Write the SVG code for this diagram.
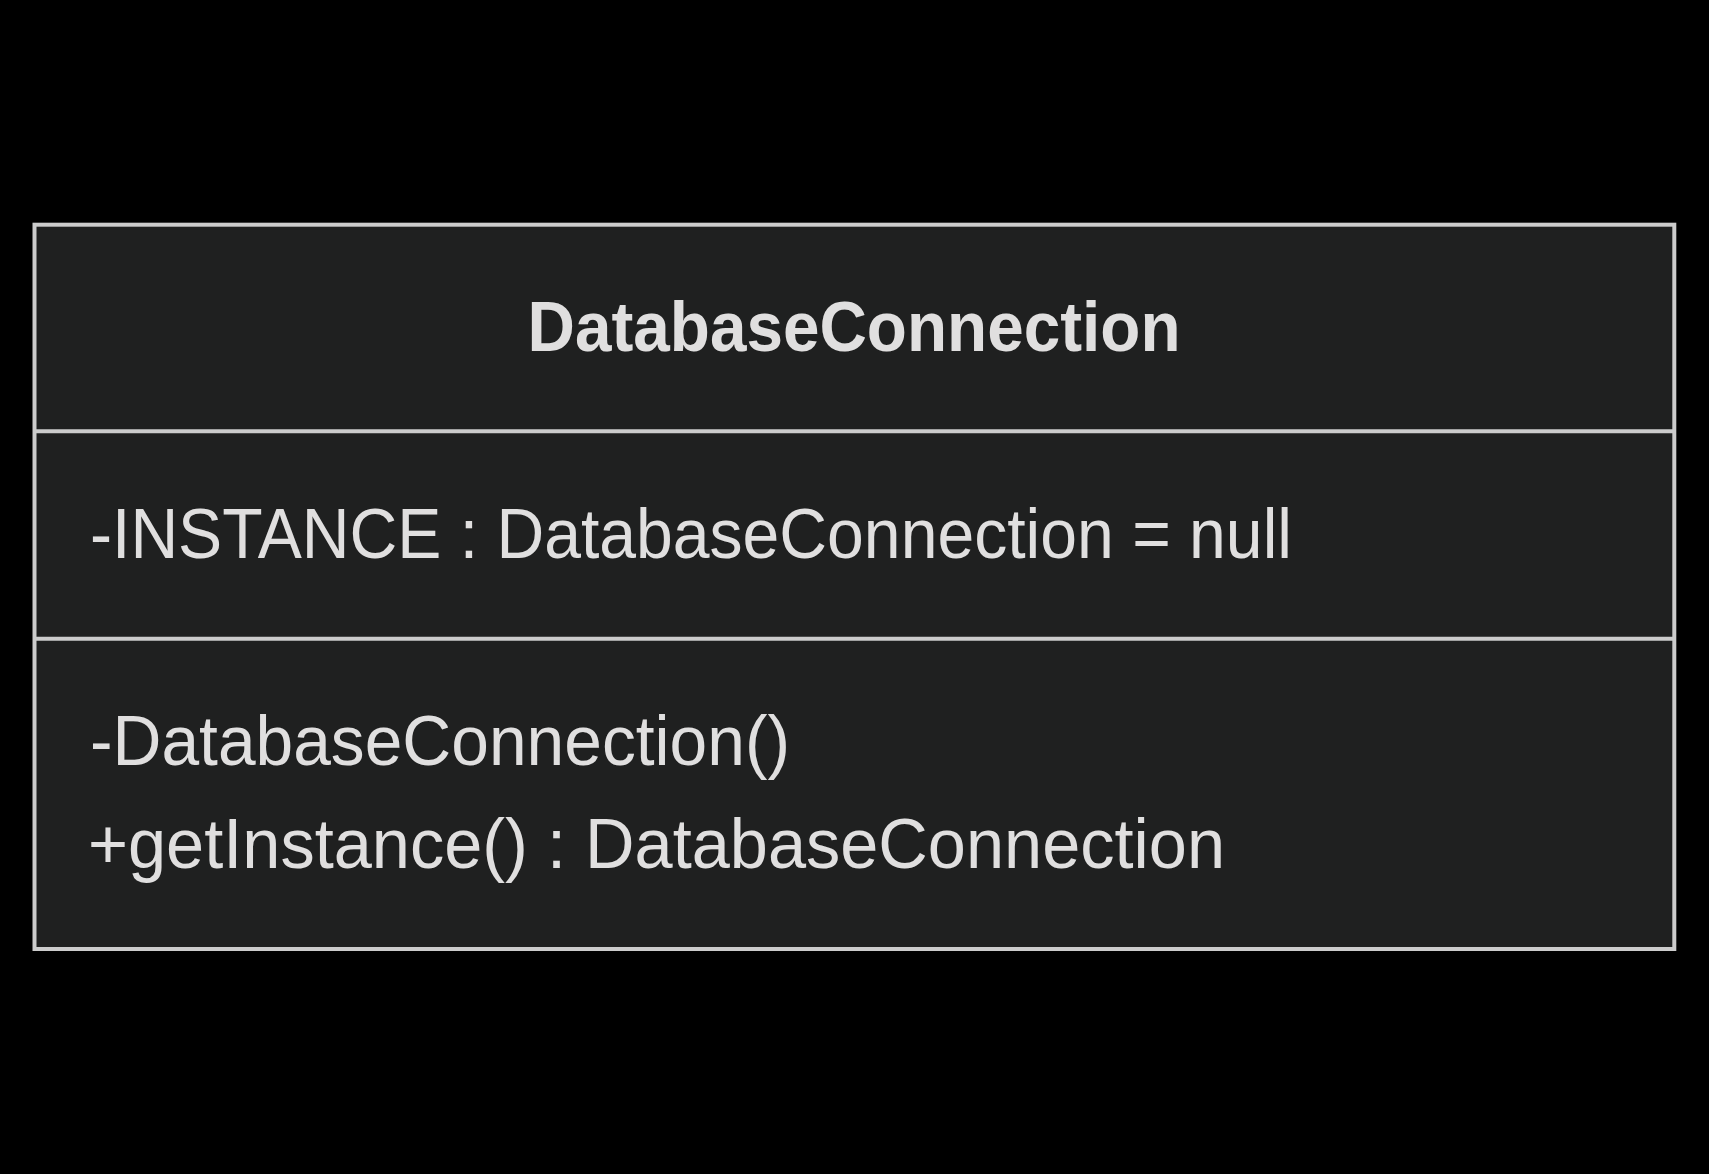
<svg xmlns="http://www.w3.org/2000/svg" width="1709" height="1174" viewBox="0 0 1709 1174">
<style>
.box{fill:#1f2020;stroke:#cccccc;stroke-width:4}
.div{stroke:#cccccc;stroke-width:4}
.t{font-family:"Liberation Sans",Arial,sans-serif;font-size:70px;fill:#e0dfdf}
.b{font-weight:bold}
</style>
<rect x="0" y="0" width="1709" height="1174" fill="#000000"/>
<g id="DatabaseConnection">
<rect class="box" x="34.5" y="224.7" width="1639.8" height="724.3"/>
<line class="div" x1="34.5" y1="431.3" x2="1674.3" y2="431.3"/>
<line class="div" x1="34.5" y1="638.7" x2="1674.3" y2="638.7"/>
<text class="t b" x="854" y="351" text-anchor="middle" textLength="653" lengthAdjust="spacingAndGlyphs">DatabaseConnection</text>
<text class="t" x="90" y="558" textLength="1202" lengthAdjust="spacingAndGlyphs">-INSTANCE : DatabaseConnection = null</text>
<text class="t" x="90" y="765" textLength="700" lengthAdjust="spacingAndGlyphs">-DatabaseConnection()</text>
<text class="t" x="88" y="868" textLength="1137" lengthAdjust="spacingAndGlyphs">+getInstance() : DatabaseConnection</text>
</g>
<g id="connectors"></g>
</svg>
